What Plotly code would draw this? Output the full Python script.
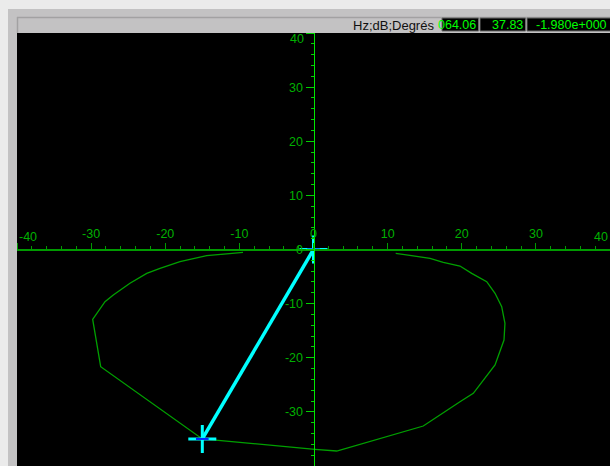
import plotly.graph_objects as go

# Locus of the measured response (real part, imaginary part)
curve_x = [11.09, 13.46, 15.72, 17.51, 19.76, 21.34, 23.37, 24.49, 25.39, 25.83,
           25.70, 24.49, 21.56, 19.76, 17.07, 14.81, 3.13, 0.20, -15.0, -28.71,
           -29.79, -28.13, -27.01, -24.76, -22.50, -20.71, -18.01, -14.41, -9.51]
curve_y = [-0.70, -1.20, -1.63, -2.36, -3.05, -4.40, -5.95, -8.09, -10.57, -13.64,
           -16.72, -21.34, -26.57, -28.12, -30.58, -32.61, -37.23, -36.91, -35.0, -21.65,
           -12.90, -9.64, -8.41, -6.24, -4.40, -3.47, -2.25, -1.15, -0.52]

# Cursor vector from the origin to the selected point
vec_x = [0, -15]
vec_y = [0, -35]

# Axis ticks
x_tick_vals = [-40, -30, -20, -10, 0, 10, 20, 30, 40]
x_tick_text = ["", "-30", "-20", "-10", "0", "10", "20", "30", ""]
y_tick_vals = [-40, -30, -20, -10, 0, 10, 20, 30, 40]
y_tick_text = ["-40", "-30", "-20", "-10", "0", "10", "20", "30", ""]

# Header readouts
header_units = "Hz;dB;Degrés"
readouts = ["064.06", "37.83", "-1.980e+000"]

W, H = 610, 466
L, T = 17, 33
PW, PH = W - L, H - T


def px(x):
    return (x - L) / PW


def py(y):
    return (H - y) / PH


GREEN_TXT = "#00b000"
FONT = "Liberation Sans"
TICK_SIZE = 12.5

fig = go.Figure()

fig.add_trace(go.Scatter(
    x=curve_x, y=curve_y, mode="lines",
    line=dict(color="#00a000", width=1.3),
    hoverinfo="skip", showlegend=False,
))

fig.add_trace(go.Scatter(
    x=vec_x, y=vec_y, mode="lines",
    line=dict(color="#00ffff", width=3.5),
    hoverinfo="skip", showlegend=False,
))

fig.add_trace(go.Scatter(
    x=vec_x, y=vec_y, mode="markers",
    marker=dict(symbol="cross-thin", size=20,
                line=dict(color="#00ffff", width=3)),
    hoverinfo="skip", showlegend=False,
))
fig.add_trace(go.Scatter(
    x=vec_x, y=vec_y, mode="markers",
    marker=dict(symbol="line-ew", size=9,
                line=dict(color="#0020ff", width=2)),
    hoverinfo="skip", showlegend=False,
))

shapes = [
    # window panel
    dict(type="rect", xref="paper", yref="paper",
         x0=px(8), x1=px(W), y0=py(H), y1=py(9),
         fillcolor="#c3c2c3", line=dict(width=0), layer="below"),
    # plotting surface
    dict(type="rect", xref="paper", yref="paper",
         x0=0, x1=1, y0=0, y1=1,
         fillcolor="#000000", line=dict(width=0), layer="below"),
    # header bevel
    dict(type="line", xref="paper", yref="paper",
         x0=px(17), x1=px(W), y0=py(17.5), y1=py(17.5),
         line=dict(color="#a2a1a2", width=1.5), layer="below"),
    dict(type="line", xref="paper", yref="paper",
         x0=px(17.5), x1=px(17.5), y0=py(33), y1=py(17),
         line=dict(color="#a2a1a2", width=1.5), layer="below"),
]

boxes = [(442, 478.5), (480, 525.5), (527, 612)]
for x0, x1 in boxes:
    shapes.append(dict(type="rect", xref="paper", yref="paper",
                       x0=px(x0), x1=px(x1), y0=py(31), y1=py(18),
                       fillcolor="#000000",
                       line=dict(color="#6a6a6a", width=1), layer="below"))

annotations = [
    dict(xref="paper", yref="paper", x=px(436), y=py(25),
         xanchor="right", yanchor="middle", showarrow=False,
         text=header_units, font=dict(family=FONT, size=13, color="#111111")),
]
for (x0, x1), txt in zip(boxes, readouts):
    annotations.append(dict(
        xref="paper", yref="paper", x=px(min(x1, 610) - 1), y=py(24.5),
        xanchor="right", yanchor="middle", showarrow=False,
        text=txt, font=dict(family=FONT, size=12.5, color="#00ff00")))

# end labels kept inside the plotting surface
annotations += [
    dict(x=-40, y=0, xref="x", yref="y", xanchor="left", yanchor="bottom",
         yshift=4, showarrow=False, text="-40",
         font=dict(family=FONT, size=TICK_SIZE, color=GREEN_TXT)),
    dict(x=40, y=0, xref="x", yref="y", xanchor="right", yanchor="bottom",
         yshift=4, showarrow=False, text="40",
         font=dict(family=FONT, size=TICK_SIZE, color=GREEN_TXT)),
    dict(x=0, y=40, xref="x", yref="y", xanchor="right", yanchor="top",
         xshift=-8, yshift=3, showarrow=False, text="40",
         font=dict(family=FONT, size=TICK_SIZE, color=GREEN_TXT)),
]

fig.update_layout(
    width=W, height=H,
    margin=dict(l=L, r=0, t=T, b=0, pad=0),
    paper_bgcolor="#ebebeb",
    plot_bgcolor="#000000",
    showlegend=False,
    shapes=shapes,
    annotations=annotations,
    xaxis=dict(
        range=[-40, 40], anchor="free", position=0.5, side="top",
        showline=True, linecolor="#009a00", linewidth=2,
        ticks="outside", ticklen=6, tickwidth=1, tickcolor="#009a00",
        tickmode="array", tickvals=x_tick_vals, ticktext=x_tick_text,
        minor=dict(ticks="outside", ticklen=3, tickcolor="#009a00",
                   tick0=0, dtick=2),
        showgrid=False, zeroline=False, fixedrange=True,
        tickfont=dict(family=FONT, size=TICK_SIZE, color=GREEN_TXT),
    ),
    yaxis=dict(
        range=[-40, 40], anchor="free", position=0.5, side="left",
        showline=True, linecolor="#00e600", linewidth=1,
        ticks="outside", ticklen=8, tickwidth=1, tickcolor="#00d000",
        tickmode="array", tickvals=y_tick_vals, ticktext=y_tick_text,
        minor=dict(ticks="outside", ticklen=3, tickcolor="#00d000",
                   tick0=0, dtick=2),
        showgrid=False, zeroline=False, fixedrange=True,
        tickfont=dict(family=FONT, size=TICK_SIZE, color=GREEN_TXT),
    ),
)

fig.write_html("out.html", config={"displayModeBar": False})
